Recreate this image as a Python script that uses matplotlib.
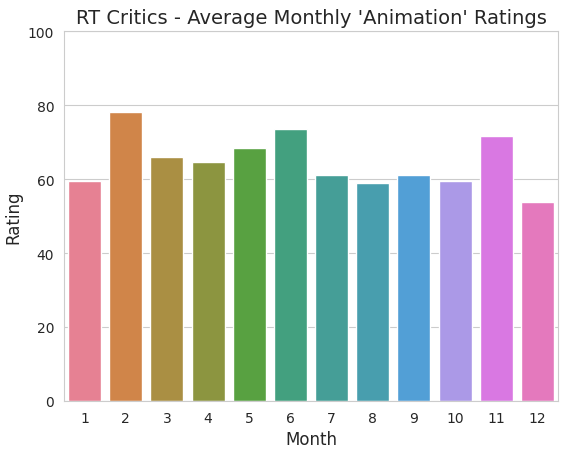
import matplotlib
matplotlib.use("Agg")
import matplotlib.pyplot as plt
import seaborn as sns

months = [str(m) for m in range(1, 13)]
ratings = [59.5, 78.2, 66.0, 64.5, 68.5, 73.5, 61.0, 58.8, 61.0, 59.5, 71.7, 53.8]

sns.set_style("whitegrid")
fig = plt.figure(figsize=(5.69, 4.56), dpi=100)
ax = fig.add_axes([64/569, 1-402/456, (558-64)/569, (402-32)/456])
sns.barplot(x=months, y=ratings, hue=months, palette=sns.color_palette("husl", 12),
            saturation=0.75, legend=False, ax=ax)
ax.set_ylim(0, 100)
ax.set_title("RT Critics - Average Monthly 'Animation' Ratings", fontsize=14)
ax.set_xlabel("Month", fontsize=12)
ax.set_ylabel("Rating", fontsize=12)
fig.savefig("out.png", dpi=100)
